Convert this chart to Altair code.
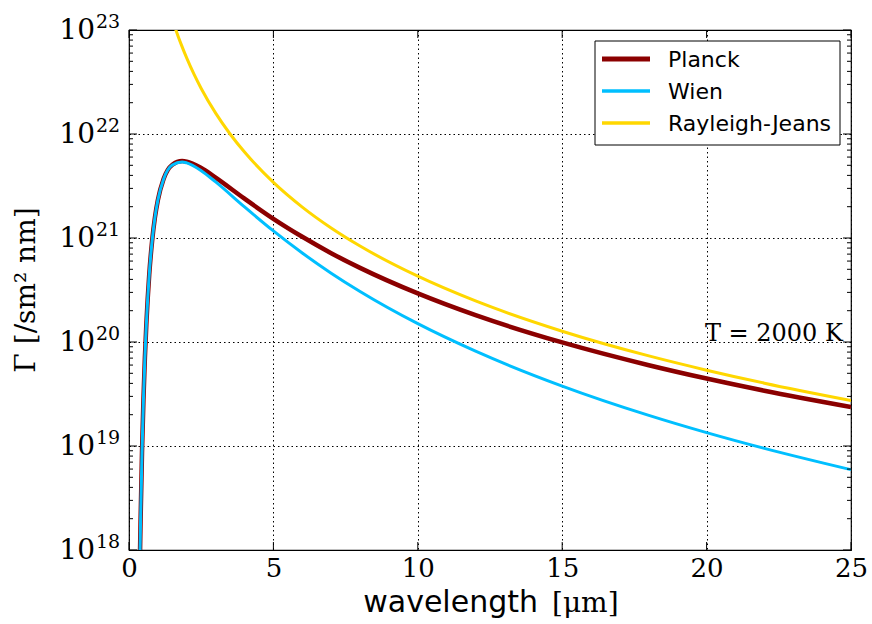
import altair as alt
import pandas as pd

# ---- data ----
series = ["Planck", "Wien", "Rayleigh-Jeans"]
colors = ["#8b0000", "#00bfff", "#ffd700"]
widths = [4.5, 3, 3]

wl_pw = [0.35, 0.38, 0.4, 0.45, 0.5, 0.55, 0.6, 0.7, 0.8, 0.9, 1.0, 1.2, 1.5, 1.84, 2.0,
         2.5, 3, 4, 5, 6, 7, 8, 10, 12, 15, 18, 20, 22, 25]
planck = [2.4e17, 8.9e17, 1.86e18, 8.6e18, 2.78e19, 7.03e19, 1.47e20, 4.42e20, 9.36e20,
          1.59e21, 2.32e21, 3.71e21, 5.07e21, 5.5e21, 5.43e21, 4.71e21, 3.81e21, 2.39e21,
          1.53e21, 1.027e21, 7.15e20, 5.16e20, 2.93e20, 1.81e20, 9.9e19, 5.98e19, 4.45e19,
          3.40e19, 2.37e19]
wien = [2.4e17, 8.9e17, 1.86e18, 8.57e18, 2.78e19, 7.03e19, 1.47e20, 4.42e20, 9.36e20,
        1.588e21, 2.32e21, 3.70e21, 5.03e21, 5.39e21, 5.28e21, 4.44e21, 3.46e21, 1.99e21,
        1.17e21, 7.17e20, 4.59e20, 3.06e20, 1.50e20, 8.16e19, 3.77e19, 1.97e19, 1.345e19,
        9.49e18, 5.92e18]
wl_rj = [1.5, 1.6, 1.7, 1.8, 2.0, 2.25, 2.5, 3, 3.5, 4, 5, 6, 7, 8, 10, 12, 15, 18, 20, 22, 25]
rj = [1.27e23, 1.046e23, 8.72e22, 7.35e22, 5.36e22, 3.76e22, 2.74e22, 1.587e22, 1.0e22,
      6.70e21, 3.43e21, 1.984e21, 1.249e21, 8.37e20, 4.29e20, 2.48e20, 1.27e20, 7.35e19,
      5.36e19, 4.02e19, 2.74e19]

x_ticks = [0, 5, 10, 15, 20, 25]
y_ticks = [1e18, 1e19, 1e20, 1e21, 1e22, 1e23]
y_exps = ["18", "19", "20", "21", "22", "23"]
y_minor = [m * 10 ** e for e in range(18, 23) for m in range(2, 10)]

annot_x = [24.72]
annot_y = [1e20]
annot_text = ["T = 2000 K"]

W, H = 722, 520

df = pd.concat([
    pd.DataFrame({"wl": wl_pw, "val": planck, "series": "Planck"}),
    pd.DataFrame({"wl": wl_pw, "val": wien, "series": "Wien"}),
    pd.DataFrame({"wl": wl_rj, "val": rj, "series": "Rayleigh-Jeans"}),
])

xscale = alt.Scale(domain=[0, 25], nice=False, zero=False)
yscale = alt.Scale(type="log", domain=[1e18, 1e23], nice=False)
grid_kw = dict(grid=True, gridColor="black", gridDash=[1.5, 3], gridWidth=1, gridOpacity=1)

xenc = alt.X("wl:Q", scale=xscale,
             axis=alt.Axis(values=x_ticks, title=None, labelFont="DejaVu Serif",
                           labelFontSize=26, labelColor="black", ticks=False, domain=False,
                           labelPadding=5, labelFlush=False, **grid_kw))
yenc = alt.Y("val:Q", scale=yscale,
             axis=alt.Axis(values=y_ticks, title=None, labels=False, ticks=False,
                           domain=False, **grid_kw))

lines = []
for s, c, w in zip(series, colors, widths):
    lines.append(
        alt.Chart(df[df.series == s]).mark_line(
            color=c, strokeWidth=w, clip=True, interpolate="monotone"
        ).encode(x=xenc, y=yenc, order="wl:Q")
    )

# inward ticks
xt = pd.DataFrame({"wl": x_ticks})
yt = pd.DataFrame({"val": y_ticks, "exp": y_exps})
ym = pd.DataFrame({"val": y_minor})
tick_layers = [
    alt.Chart(xt).mark_rule(color="black", strokeWidth=1).encode(
        x=alt.X("wl:Q", scale=xscale), y=alt.value(H), y2=alt.value(H - 8)),
    alt.Chart(xt).mark_rule(color="black", strokeWidth=1).encode(
        x=alt.X("wl:Q", scale=xscale), y=alt.value(0), y2=alt.value(8)),
    alt.Chart(yt).mark_rule(color="black", strokeWidth=1).encode(
        y=alt.Y("val:Q", scale=yscale), x=alt.value(0), x2=alt.value(8)),
    alt.Chart(yt).mark_rule(color="black", strokeWidth=1).encode(
        y=alt.Y("val:Q", scale=yscale), x=alt.value(W), x2=alt.value(W - 8)),
    alt.Chart(ym).mark_rule(color="black", strokeWidth=1).encode(
        y=alt.Y("val:Q", scale=yscale), x=alt.value(0), x2=alt.value(4)),
    alt.Chart(ym).mark_rule(color="black", strokeWidth=1).encode(
        y=alt.Y("val:Q", scale=yscale), x=alt.value(W), x2=alt.value(W - 4)),
]

# y tick labels 10^n
ylab_base = alt.Chart(yt).mark_text(
    align="right", baseline="alphabetic", dy=9, font="DejaVu Serif", fontSize=28, color="black"
).encode(y=alt.Y("val:Q", scale=yscale), x=alt.value(-34), text=alt.value("10"))
ylab_exp = alt.Chart(yt).mark_text(
    align="left", baseline="alphabetic", dy=-2, font="DejaVu Serif", fontSize=19, color="black"
).encode(y=alt.Y("val:Q", scale=yscale), x=alt.value(-33), text="exp:N")

# axis titles
title_df = pd.DataFrame({"a": [0]})
xt1 = alt.Chart(title_df).mark_text(
    align="right", baseline="alphabetic", font="DejaVu Sans", fontSize=30, color="black"
).encode(x=alt.value(409), y=alt.value(582), text=alt.value("wavelength"))
xt2 = alt.Chart(title_df).mark_text(
    align="left", baseline="alphabetic", font="DejaVu Serif", fontSize=28, color="black"
).encode(x=alt.value(423), y=alt.value(582), text=alt.value("[μm]"))
ytitle = alt.Chart(title_df).mark_text(
    align="center", baseline="middle", angle=270, font="DejaVu Serif", fontSize=28, color="black"
).encode(x=alt.value(-102), y=alt.value(260), text=alt.value("Γ [/sm² nm]"))

# annotation
ann_df = pd.DataFrame({"wl": annot_x, "val": annot_y, "t": annot_text})
ann = alt.Chart(ann_df).mark_text(
    align="right", baseline="alphabetic", dy=-1, font="DejaVu Serif", fontSize=24, color="black"
).encode(x=alt.X("wl:Q", scale=xscale), y=alt.Y("val:Q", scale=yscale), text="t:N")

# legend
leg_box = alt.Chart(title_df).mark_rect(fill="white", stroke="black", strokeWidth=1).encode(
    x=alt.value(466), x2=alt.value(711), y=alt.value(11), y2=alt.value(115))
leg_layers = [leg_box]
for i, (s, c, w) in enumerate(zip(series, colors, widths)):
    yy = 29 + i * 32
    leg_layers.append(alt.Chart(title_df).mark_rule(color=c, strokeWidth=w + 0.5).encode(
        x=alt.value(473), x2=alt.value(521), y=alt.value(yy)))
    leg_layers.append(alt.Chart(title_df).mark_text(
        align="left", baseline="middle", font="DejaVu Sans", fontSize=22, color="black"
    ).encode(x=alt.value(539), y=alt.value(yy + 1), text=alt.value(s)))

chart = alt.layer(
    *lines, *tick_layers, ylab_base, ylab_exp, xt1, xt2, ytitle, ann, *leg_layers
).properties(
    width=W, height=H,
    autosize=alt.AutoSizeParams(type="none"),
    padding={"left": 129, "top": 30, "right": 21, "bottom": 74},
    background="white",
).configure_view(stroke="black", strokeWidth=1.2)

chart.save("out.html", embed_options={"renderer": "svg", "actions": False})
